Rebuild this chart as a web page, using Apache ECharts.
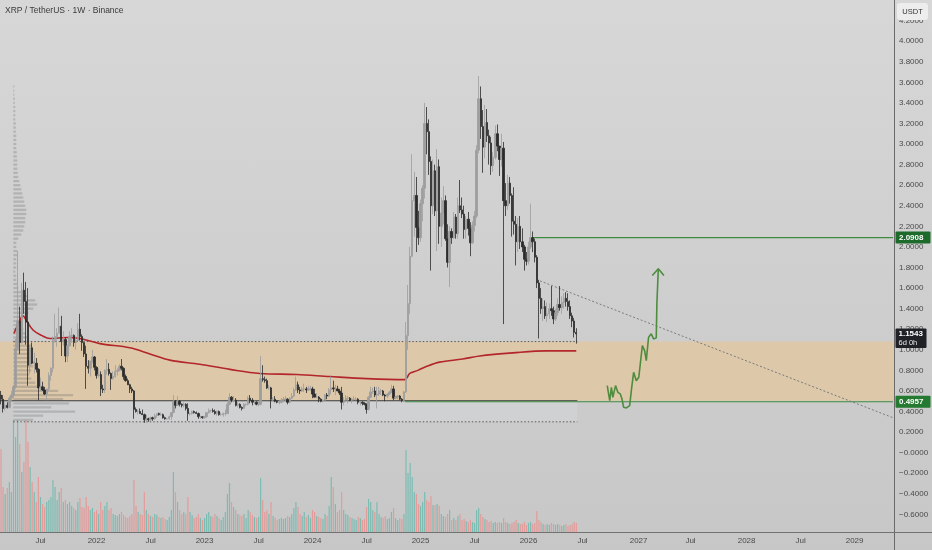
<!DOCTYPE html>
<html><head><meta charset="utf-8">
<script src="https://cdn.jsdelivr.net/npm/echarts@6/dist/echarts.min.js"></script>
<style>
html,body{margin:0;padding:0;width:932px;height:550px;overflow:hidden;background:linear-gradient(#d7d7d7,#c7c7c7);}
#c{width:932px;height:550px;}
</style>
</head><body><div id="c"></div>
<script>
// ---------- DATA ----------
const startDate = '2021-02-15';      // first weekly bar (Monday)
const weekCount = 430;               // visible weekly slots on the time axis
const firstOpen = 0.56;
const closes = [
 0.52,0.43,0.46,0.44,0.53,0.56,
 0.64,1.01,1.28,1.07,1.58,1.47,1.27,0.85,1.02,0.87,
 0.87,0.81,0.63,0.64,0.61,0.57,0.62,0.75,0.82,1.09,
 1.13,1.16,1.23,1.08,1.10,0.94,1.04,1.13,1.14,1.07,
 1.09,1.20,1.13,1.07,0.96,0.84,0.82,0.89,0.93,0.83,
 0.75,0.76,0.62,0.61,0.80,0.81,0.77,0.72,0.74,0.79,
 0.80,0.84,0.82,0.74,0.70,0.66,0.62,0.60,0.42,0.40,
 0.40,0.38,0.37,0.32,0.33,0.32,0.34,0.33,0.36,0.38,
 0.37,0.37,0.34,0.33,0.33,0.35,0.39,0.50,0.46,0.50,
 0.47,0.46,0.47,0.43,0.38,0.38,0.40,0.39,0.38,0.35,
 0.35,0.34,
 0.35,0.39,0.41,0.41,0.40,0.38,0.40,0.37,0.37,0.38,
 0.38,0.47,0.54,0.51,0.51,0.46,0.47,0.44,0.43,0.47,
 0.47,0.53,0.51,0.49,0.49,0.47,0.47,0.72,0.71,0.70,
 0.63,0.63,0.52,0.52,0.50,0.49,0.49,0.51,0.52,0.52,
 0.49,0.53,0.55,0.61,0.66,0.61,0.60,0.62,0.62,0.61,
 0.62,0.62,
 0.57,0.54,0.54,0.52,0.50,0.51,0.56,0.55,0.61,0.63,
 0.62,0.62,0.60,0.58,0.49,0.51,0.53,0.53,0.51,0.52,
 0.52,0.52,0.49,0.49,0.48,0.47,0.42,0.54,0.59,0.60,
 0.56,0.57,0.60,0.60,0.56,0.55,0.57,0.59,0.62,0.53,
 0.54,0.55,0.52,0.51,0.59,1.14,1.45,1.91,2.45,2.50,
 2.19,2.09,
 2.42,2.57,3.20,3.12,2.83,2.40,2.74,2.35,2.78,2.20,
 2.33,2.45,2.08,1.85,2.15,2.09,2.29,2.13,2.40,2.36,
 2.32,2.17,2.27,2.18,2.04,2.21,2.30,2.94,3.44,3.17,
 2.97,3.21,3.08,3.01,2.79,2.87,3.10,2.98,2.85,2.96,
 2.45,2.40,2.62,2.50,2.25,2.22,2.05,2.20,2.05,2.00,
 1.88,1.86,
 2.00,2.09,2.05,1.90,1.65,1.50,1.40,1.42,1.33,1.35,1.40,1.38,
 1.30,1.36,1.44,1.41,1.46,1.50,1.47,1.42,1.33,1.28,1.17,1.1543
];
const highs = [
 0.60,0.56,0.49,0.49,0.55,0.60,
 0.66,1.11,1.96,1.42,1.65,1.75,1.66,1.60,1.05,1.07,
 0.97,0.92,0.82,0.73,0.69,0.64,0.62,0.78,0.83,1.13,
 1.35,1.21,1.41,1.33,1.18,1.12,1.05,1.18,1.21,1.15,
 1.13,1.26,1.35,1.15,1.07,1.04,0.90,0.89,1.00,0.94,
 0.84,0.82,0.79,0.66,0.81,0.91,0.87,0.78,0.79,0.85,
 0.82,0.86,0.91,0.83,0.76,0.72,0.67,0.64,0.61,0.44,
 0.42,0.43,0.42,0.38,0.37,0.34,0.35,0.35,0.38,0.38,
 0.39,0.39,0.38,0.35,0.34,0.36,0.39,0.56,0.51,0.55,
 0.51,0.48,0.49,0.48,0.48,0.39,0.41,0.41,0.40,0.39,
 0.36,0.35,
 0.36,0.39,0.43,0.42,0.43,0.42,0.41,0.41,0.39,0.39,
 0.42,0.49,0.58,0.55,0.55,0.53,0.49,0.48,0.45,0.48,
 0.48,0.55,0.56,0.53,0.51,0.50,0.50,0.94,0.85,0.74,
 0.72,0.66,0.64,0.54,0.55,0.51,0.51,0.53,0.54,0.55,
 0.53,0.54,0.58,0.63,0.74,0.69,0.64,0.64,0.67,0.64,
 0.65,0.65,
 0.64,0.62,0.58,0.55,0.53,0.52,0.57,0.58,0.63,0.74,
 0.70,0.66,0.65,0.62,0.64,0.54,0.56,0.55,0.54,0.53,
 0.55,0.54,0.53,0.50,0.50,0.49,0.48,0.55,0.64,0.63,
 0.64,0.64,0.64,0.62,0.61,0.57,0.58,0.60,0.66,0.65,
 0.55,0.56,0.56,0.53,0.60,1.27,1.63,2.00,2.90,2.73,
 2.68,2.35,
 2.46,2.60,3.40,3.36,3.24,2.88,2.85,2.80,2.95,2.85,
 2.48,2.59,2.50,2.22,2.20,2.18,2.34,2.32,2.48,2.65,
 2.48,2.40,2.30,2.34,2.24,2.25,2.35,2.99,3.66,3.56,
 3.33,3.38,3.34,3.14,3.07,2.92,3.18,3.19,2.98,3.10,
 3.02,2.62,2.70,2.68,2.52,2.58,2.30,2.28,2.30,2.18,
 2.02,1.95,
 2.05,2.42,2.15,2.08,1.92,1.68,1.60,1.50,1.48,1.46,1.45,1.62,
 1.42,1.40,1.50,1.62,1.52,1.55,1.56,1.55,1.48,1.36,1.31,1.21
];
const lows = [
 0.47,0.39,0.41,0.43,0.43,0.50,
 0.53,0.62,0.99,0.96,1.06,1.35,1.05,0.65,0.77,0.86,
 0.77,0.78,0.51,0.60,0.60,0.56,0.51,0.60,0.70,0.78,
 1.07,1.03,1.16,0.94,1.04,0.88,0.88,1.03,1.07,1.03,
 1.00,1.08,1.09,0.99,0.93,0.62,0.77,0.74,0.87,0.80,
 0.72,0.73,0.55,0.58,0.58,0.76,0.75,0.61,0.71,0.73,
 0.75,0.79,0.80,0.71,0.69,0.66,0.58,0.58,0.33,0.39,
 0.37,0.38,0.37,0.29,0.31,0.30,0.31,0.31,0.32,0.34,
 0.36,0.36,0.33,0.32,0.32,0.32,0.32,0.39,0.43,0.46,
 0.45,0.44,0.44,0.41,0.31,0.36,0.37,0.38,0.38,0.33,
 0.33,0.33,
 0.33,0.34,0.38,0.39,0.39,0.37,0.36,0.36,0.36,0.35,
 0.36,0.38,0.46,0.49,0.49,0.45,0.44,0.43,0.41,0.43,
 0.45,0.46,0.48,0.46,0.47,0.46,0.45,0.46,0.69,0.68,
 0.62,0.61,0.43,0.50,0.49,0.48,0.47,0.48,0.49,0.50,
 0.47,0.48,0.52,0.54,0.60,0.58,0.57,0.59,0.59,0.58,
 0.60,0.60,
 0.53,0.54,0.53,0.49,0.49,0.49,0.51,0.52,0.54,0.57,
 0.59,0.56,0.60,0.56,0.42,0.46,0.51,0.48,0.50,0.48,
 0.51,0.51,0.47,0.46,0.46,0.46,0.38,0.41,0.53,0.57,
 0.54,0.43,0.55,0.56,0.55,0.50,0.53,0.56,0.58,0.51,
 0.52,0.52,0.51,0.49,0.49,0.58,1.00,1.35,1.90,2.10,
 1.95,2.02,
 2.05,2.25,2.47,2.90,2.70,1.77,2.32,2.30,1.96,2.03,
 2.00,2.22,2.06,1.80,1.61,2.03,2.08,2.08,2.08,2.33,
 2.28,2.08,2.08,2.11,1.91,2.03,2.15,2.28,2.91,3.05,
 2.72,2.86,3.02,2.80,2.70,2.73,2.85,2.93,2.69,2.78,
 1.25,2.30,2.36,2.42,2.10,2.12,1.82,1.95,1.98,1.95,
 1.77,1.82,
 1.83,1.98,1.95,1.85,1.60,1.11,1.35,1.28,1.30,1.27,1.30,1.33,
 1.25,1.28,1.33,1.38,1.35,1.40,1.42,1.38,1.30,1.22,1.12,1.06
];
const volumes = [
 83,45,38,44,50,40,112,95,112,88,
 60,70,112,90,65,50,40,30,55,35,
 28,25,30,32,35,52,45,32,40,44,
 30,32,28,30,26,24,22,30,34,25,
 24,35,26,22,24,20,22,18,30,22,
 26,30,22,24,18,17,16,18,20,17,
 15,14,16,18,52,26,20,18,17,40,
 22,18,16,15,18,17,15,14,15,13,
 12,15,22,60,40,30,22,18,20,18,
 35,20,17,14,15,18,14,12,14,18,
 20,16,15,18,16,14,12,15,20,38,
 49,30,25,22,18,17,16,18,14,22,
 20,17,15,14,15,54,32,20,22,18,
 30,16,14,12,13,14,13,14,16,15,
 18,24,30,25,18,16,20,15,17,14,
 22,20,16,15,14,13,18,16,26,55,
 45,28,20,22,40,22,18,17,15,14,
 13,12,15,14,12,13,25,33,30,22,
 20,30,18,15,14,16,13,14,20,24,
 14,12,14,13,18,82,59,69,55,40,
 38,28,26,30,40,32,30,36,27,27,
 28,26,18,16,15,18,22,12,14,12,
 16,18,12,13,11,10,12,10,9,22,
 24,18,15,13,12,10,11,9,10,9,
 10,9,14,10,9,8,9,10,12,9,
 8,8,10,7,9,10,8,9,21,12,
 10,8,7,8,7,9,8,7,8,7,
 6,7,8,6,7,8,10,9
];
// anchored average line [week index, price]
const avgLine = [
 [6.2,1.16],[8.5,1.26],[10.6,1.33],[12.3,1.28],[15.5,1.19],[19.5,1.14],[23.6,1.11],
 [31.6,1.12],[38,1.11],[47.6,1.06],[62,1.02],[71.7,0.96],[81.3,0.90],[95.7,0.86],
 [110.2,0.81],[124.6,0.77],[142.4,0.76],[158.3,0.74],[176.1,0.72],[194.4,0.71],
 [196.8,0.77],[200.7,0.80],[205,0.84],[211.2,0.88],[222.3,0.91],[230.5,0.94],
 [246.4,0.97],[262.7,0.99],[277,0.99]
];
// volume profile: bins of profileStep starting at profileLow (bottom -> top)
const profileLow = 0.30, profileStep = 0.04;
const profileVolumes = [
 20,30,62,38,56,50,60,45,30,22,18,16,18,20,21,18,16,17,18,16,
 14,12,10,9,8,10,15,20,24,22,14,8,5,4,3,3,2,3,3,3,
 4,4,3,3,5,8,10,11,12,12,13,13,12,11,10,9,8,7,6,5,
 4.5,4,4,4,3.5,3.5,3,3,3,3,2.5,2.5,2.5,2,2,2,2,1.5,1.5,1,
 1,1
];
const tickDates = ['2021-07-01','2022-01-01','2022-07-01','2023-01-01','2023-07-01','2024-01-01','2024-07-01','2025-01-01','2025-07-01','2026-01-01','2026-07-01','2027-01-01','2027-07-01','2028-01-01','2028-07-01','2029-01-01'];
const tickLabels = ['Jul','2022','Jul','2023','Jul','2024','Jul','2025','Jul','2026','Jul','2027','Jul','2028','Jul','2029'];
const resistance = 2.0908, support = 0.4957, lastPrice = 1.1543, countdown = '6d 0h';
const zoneTop = 1.08, zoneBottom = 0.505, rangeLow = 0.30;
const rangeStart = 5.9, rangeEnd = 277.5, resStart = 255.5, supStart = 194.5;
const trendLine = [[259.5,1.67],[429.5,0.34]];
const projection = [[291.9,0.652],[293.1,0.506],[293.9,0.635],[294.6,0.538],[295.9,0.652],[297.0,0.587],[298.2,0.571],[299.0,0.522],[299.8,0.441],[301.1,0.435],[302.7,0.457],[303.5,0.603],[304.6,0.781],[305.9,0.700],[307.1,0.733],[308.8,1.041],[309.9,0.992],[310.7,0.895],[311.8,1.122],[313.1,1.155],[314.2,1.106],[315.5,1.116],[315.8,1.447],[316.5,1.787]];
const arrowHead = [[313.6,1.722],[316.5,1.787],[319.2,1.722]];

// ---------- BUILD ----------
const DAY = 86400000, t0 = Date.parse(startDate + 'T00:00:00Z');
const categories = [];
for (let i = 0; i < weekCount; i++) categories.push(new Date(t0 + i * 7 * DAY).toISOString().slice(0, 10));
const tickMap = new Map();
tickDates.forEach((d, k) => tickMap.set(Math.round((Date.parse(d + 'T00:00:00Z') - t0) / (7 * DAY)), tickLabels[k]));
const candleData = closes.map((c, i) => [i === 0 ? firstOpen : closes[i - 1], c, lows[i], highs[i]]);
const volData = volumes.map((v, i) => ({ value: v, itemStyle: { color: candleData[i][1] >= candleData[i][0] ? '#7bbcb2' : '#e39b99' } }));
const xMax = weekCount - 0.5;
const FONT = "'Liberation Sans', Arial, sans-serif";
const profileScale = 0.48;
const rects = [[-0.5, xMax, zoneBottom, zoneTop, 0], [rangeStart, rangeEnd, rangeLow, zoneBottom, 1]];
const rectFills = ['#ddc8a9', 'rgba(226,229,236,0.24)'];

function hline(data, color, width, type, z) {
  return { type: 'line', xAxisIndex: 1, yAxisIndex: 0, data, symbol: 'none', silent: true, z,
    lineStyle: { color, width, type: type || 'solid' } };
}

const chart = echarts.init(document.getElementById('c'), null, { renderer: 'canvas' });
chart.setOption({
  animation: false,
  backgroundColor: 'transparent',
  grid: [
    { left: 0, top: 0, width: 893, height: 535, outerBoundsMode: 'none' },
    { left: 0, top: 400, width: 893, height: 132, outerBoundsMode: 'none' }
  ],
  xAxis: [
    { type: 'category', gridIndex: 0, data: categories, show: false, boundaryGap: true },
    { type: 'value', gridIndex: 0, min: -0.5, max: xMax, show: false, position: 'top' },
    { type: 'category', gridIndex: 1, data: categories, boundaryGap: true,
      axisLine: { show: false }, axisTick: { show: false }, splitLine: { show: false },
      axisLabel: { interval: (idx) => tickMap.has(idx), formatter: (v, idx) => tickMap.get(idx) || '',
        color: '#4a4a4a', fontSize: 8, fontFamily: FONT, margin: 5, hideOverlap: false } }
  ],
  yAxis: [
    { type: 'value', gridIndex: 0, position: 'right', min: -0.8, max: 4.4, interval: 0.2,
      axisLine: { show: false }, axisTick: { show: false }, splitLine: { show: false },
      axisLabel: { margin: 6, color: '#4a4a4a', fontSize: 8, fontFamily: FONT,
        formatter: (v) => {
          if (v > 4.25 || v < -0.75) return '';
          if (Math.abs(v) < 1e-9) return '\u22120.0000';
          return v < 0 ? '\u2212' + Math.abs(v).toFixed(4) : v.toFixed(4);
        } } },
    { type: 'value', gridIndex: 1, min: 0, max: 132, show: false }
  ],
  series: [
    { type: 'bar', xAxisIndex: 2, yAxisIndex: 1, data: volData, barWidth: 1.2, silent: true, z: 1 },
    { type: 'custom', xAxisIndex: 1, yAxisIndex: 0, data: rects, silent: true, z: 1,
      encode: { x: [0, 1], y: [2, 3] },
      renderItem: (params, api) => {
        const a = api.coord([api.value(0), api.value(3)]);
        const b = api.coord([api.value(1), api.value(2)]);
        return { type: 'rect', shape: { x: a[0], y: a[1], width: b[0] - a[0], height: b[1] - a[1] },
          style: { fill: rectFills[api.value(4)] } };
      } },
    { type: 'custom', xAxisIndex: 1, yAxisIndex: 0, silent: true, z: 3,
      data: profileVolumes.map((v, k) => [rangeStart, profileLow + profileStep * (k + 0.5), v]),
      encode: { x: 0, y: 1 },
      renderItem: (params, api) => {
        const x0 = api.value(0), p = api.value(1), v = api.value(2);
        const a = api.coord([x0, p + profileStep * 0.28]);
        const b = api.coord([x0 + v * profileScale, p - profileStep * 0.28]);
        return { type: 'rect', shape: { x: a[0], y: a[1], width: b[0] - a[0], height: b[1] - a[1] },
          style: { fill: 'rgba(115,115,115,0.32)' } };
      } },
    hline([[rangeStart, zoneTop], [rangeEnd, zoneTop]], '#5a5a5a', 1, [1.5, 2], 4),
    hline([[rangeStart, rangeLow], [rangeEnd, rangeLow]], '#5a5a5a', 1, [1.5, 2], 4),
    hline([[-0.5, zoneBottom], [rangeEnd, zoneBottom]], '#3a3a3a', 1.2, 'solid', 4),
    hline([[supStart, support], [xMax, support]], '#3d8b40', 1.1, 'solid', 4),
    hline([[resStart, resistance], [xMax, resistance]], '#3d8b40', 1.1, 'solid', 4),
    hline(trendLine, '#7a7a7a', 1, [2, 2], 4),
    { type: 'line', xAxisIndex: 1, yAxisIndex: 0, data: avgLine, symbol: 'none', smooth: 0.35, silent: true, z: 5,
      lineStyle: { color: '#b3262a', width: 1.6 } },
    { type: 'candlestick', xAxisIndex: 0, yAxisIndex: 0, data: candleData, barWidth: 1.9, silent: true, z: 6,
      itemStyle: { color: '#9d9d9d', color0: '#2b2b2b', borderColor: '#9d9d9d', borderColor0: '#2b2b2b', borderWidth: 0.8 } },
    hline(projection, '#4e8c3e', 1.6, 'solid', 7),
    hline(arrowHead, '#4e8c3e', 1.6, 'solid', 7)
  ]
});

function py(p) { return chart.convertToPixel({ yAxisIndex: 0 }, p); }
const yr = py(resistance), yl = py(lastPrice), ys = py(support);
const lblFont = 'bold 8px ' + FONT;
chart.setOption({
  graphic: [
    { type: 'line', shape: { x1: 894.5, y1: 0, x2: 894.5, y2: 550 }, style: { stroke: '#6a6a6a', lineWidth: 1 }, z: 50 },
    { type: 'line', shape: { x1: 0, y1: 532.5, x2: 932, y2: 532.5 }, style: { stroke: '#727272', lineWidth: 1 }, z: 50 },
    { type: 'text', left: 5, top: 6, style: { text: 'XRP / TetherUS \u00b7 1W \u00b7 Binance', font: '8.5px ' + FONT, fill: '#3a3a3a' }, z: 50 },
    { type: 'rect', shape: { x: 897, y: 3, width: 31, height: 17, r: 3 }, style: { fill: '#ededed' }, z: 60 },
    { type: 'text', x: 912.5, y: 11.5, style: { text: 'USDT', font: '7.5px ' + FONT, fill: '#333', align: 'center', verticalAlign: 'middle' }, z: 61 },
    { type: 'rect', shape: { x: 895.5, y: yr - 6, width: 35, height: 12, r: 1 }, style: { fill: '#1d6a2a' }, z: 60 },
    { type: 'text', x: 899, y: yr, style: { text: resistance.toFixed(4), font: lblFont, fill: '#ffffff', verticalAlign: 'middle' }, z: 61 },
    { type: 'rect', shape: { x: 895.5, y: yl - 5.5, width: 31, height: 19.5, r: 1 }, style: { fill: '#1f2126' }, z: 60 },
    { type: 'text', x: 898.5, y: yl, style: { text: lastPrice.toFixed(4), font: lblFont, fill: '#ffffff', verticalAlign: 'middle' }, z: 61 },
    { type: 'text', x: 898.5, y: yl + 9, style: { text: countdown, font: '7.5px ' + FONT, fill: '#e8e8e8', verticalAlign: 'middle' }, z: 61 },
    { type: 'rect', shape: { x: 895.5, y: ys - 6, width: 35, height: 12, r: 1 }, style: { fill: '#237a30' }, z: 60 },
    { type: 'text', x: 899, y: ys, style: { text: support.toFixed(4), font: lblFont, fill: '#ffffff', verticalAlign: 'middle' }, z: 61 }
  ]
});
</script>
</body></html>
